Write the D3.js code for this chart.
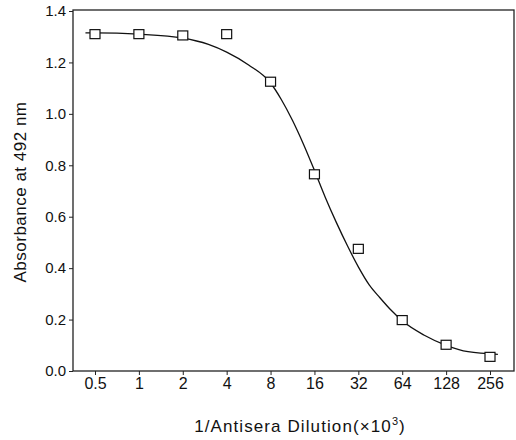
<!DOCTYPE html>
<html>
<head>
<meta charset="utf-8">
<script src="https://cdn.jsdelivr.net/npm/d3@7"></script>
<style>
  body { margin: 0; background: #fff; }
  text { font-family: "Liberation Sans", Arial, sans-serif; fill: #111; }
</style>
</head>
<body>
<svg id="chart" width="516" height="440"></svg>
<script>
// measured points
const dilutions = [0.5, 1, 2, 4, 8, 16, 32, 64, 128, 256];
const absorbance = [1.31, 1.31, 1.305, 1.31, 1.125, 0.765, 0.475, 0.198, 0.102, 0.055];

// fitted curve
const curveX = [0.43, 0.5, 1, 2, 3, 4, 5.66, 8, 9.5, 11.3, 13.5, 16, 19, 22.6, 27, 32, 38, 45, 54, 64, 90, 128, 181, 290];
const curveY = [1.315, 1.315, 1.31, 1.295, 1.27, 1.24, 1.19, 1.12, 1.055, 0.975, 0.88, 0.78, 0.675, 0.578, 0.486, 0.405, 0.335, 0.285, 0.235, 0.195, 0.14, 0.10, 0.075, 0.065];

const xTicks = [0.5, 1, 2, 4, 8, 16, 32, 64, 128, 256];
const yTicks = [0, 0.2, 0.4, 0.6, 0.8, 1.0, 1.2, 1.4];

const svg = d3.select("#chart");
const frameL = 73, frameR = 514, frameT = 10, frameB = 371;

const x = d3.scaleLog().base(2).domain([0.5, 256]).range([95, 490]);
const y = d3.scaleLinear().domain([0, 1.4]).range([frameB, frameT + 1]);

// frame
svg.append("rect")
  .attr("x", frameL).attr("y", frameT)
  .attr("width", frameR - frameL).attr("height", frameB - frameT)
  .attr("fill", "none").attr("stroke", "#222").attr("stroke-width", 1.3);

// y axis
const yAxis = svg.append("g")
  .attr("transform", `translate(${frameL},0)`)
  .call(d3.axisLeft(y).tickValues(yTicks).tickFormat(d3.format(".1f")).tickSize(4).tickPadding(3));
yAxis.select(".domain").remove();
yAxis.selectAll("line").attr("stroke", "#222");
yAxis.selectAll("text").style("font-size", "15px").attr("fill", "#111");

// x axis
const xAxis = svg.append("g")
  .attr("transform", `translate(0,${frameB})`)
  .call(d3.axisBottom(x).tickValues(xTicks).tickFormat(d => d).tickSize(4).tickPadding(3));
xAxis.select(".domain").remove();
xAxis.selectAll("line").attr("stroke", "#222");
xAxis.selectAll("text").style("font-size", "16px").attr("fill", "#111");

// curve
const line = d3.line()
  .x((d, i) => x(curveX[i]))
  .y(d => y(d))
  .curve(d3.curveMonotoneX);

svg.append("path")
  .datum(curveY)
  .attr("d", line)
  .attr("fill", "none")
  .attr("stroke", "#111")
  .attr("stroke-width", 1.3);

// square markers
svg.append("g")
  .selectAll("rect")
  .data(dilutions)
  .join("rect")
  .attr("x", d => x(d) - 5)
  .attr("y", (d, i) => y(absorbance[i]) - 4.5)
  .attr("width", 10)
  .attr("height", 9)
  .attr("fill", "#fff")
  .attr("stroke", "#111")
  .attr("stroke-width", 1.2);

// axis titles
svg.append("text")
  .attr("transform", "translate(26,192) rotate(-90)")
  .attr("text-anchor", "middle")
  .style("font-size", "17px")
  .style("letter-spacing", "0.5px")
  .text("Absorbance at 492 nm");

const xt = svg.append("text")
  .attr("x", 300).attr("y", 432)
  .attr("text-anchor", "middle")
  .style("font-size", "17px")
  .style("letter-spacing", "1.1px");
xt.append("tspan").text("1/Antisera Dilution(\u00d710");
xt.append("tspan").attr("dy", -7).style("font-size", "11px").text("3");
xt.append("tspan").attr("dy", 7).text(")");
</script>
</body>
</html>
